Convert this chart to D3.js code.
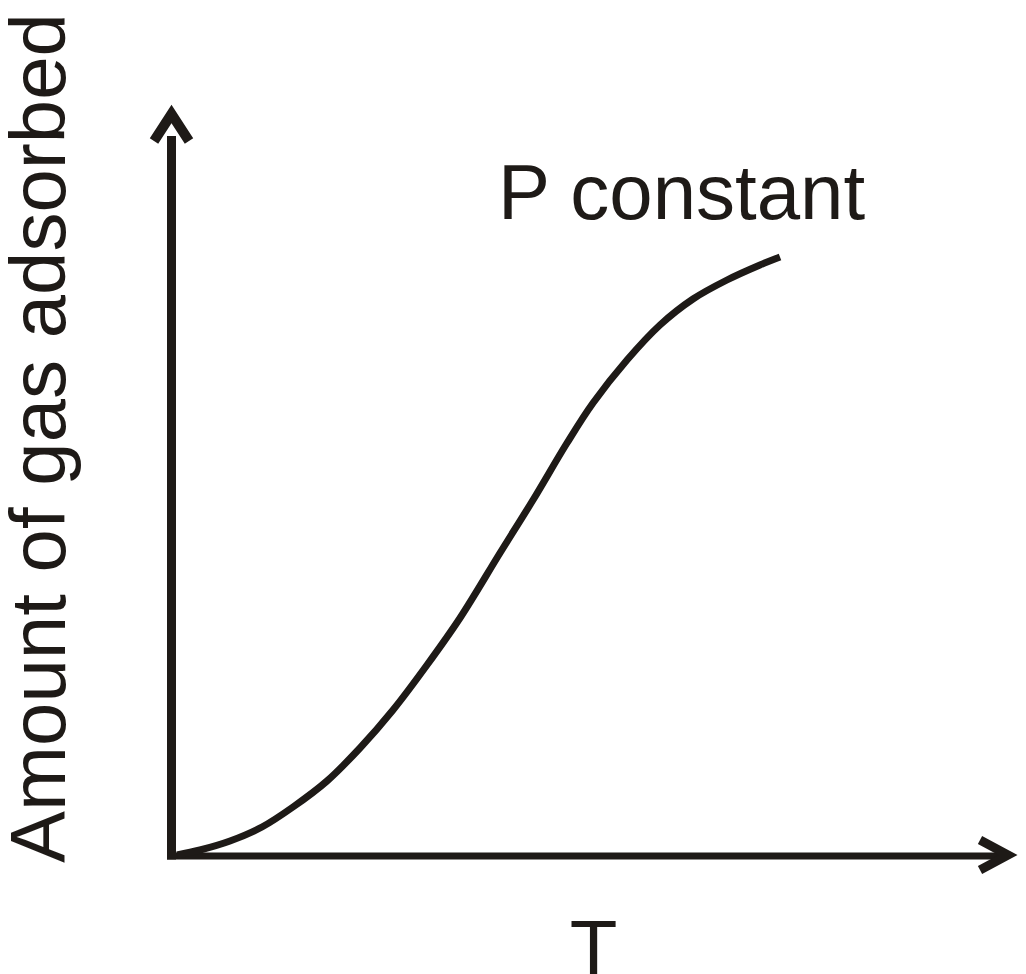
<!DOCTYPE html>
<html>
<head>
<meta charset="utf-8">
<script src="https://cdn.jsdelivr.net/npm/d3@7"></script>
<style>
  html, body { margin: 0; padding: 0; background: #fff; }
  svg { display: block; }
  text { font-family: "Liberation Sans", Arial, sans-serif; fill: #1e1a17; }
</style>
</head>
<body>
<svg id="chart" width="1026" height="974"></svg>
<script>
// Data (T in arbitrary units, amount adsorbed in arbitrary units)
const tValues      = [2, 25, 55, 87, 118, 152, 185, 218, 252, 285, 325, 358, 392, 418, 452, 485, 518, 552, 585, 605];
const amountValues = [1, 6, 15, 29, 49, 75, 108, 146, 191, 238, 303, 356, 413, 453, 496, 531, 557, 576, 591, 599];
const xLabel = "T";
const yLabel = "Amount of gas adsorbed";
const curveLabel = "P constant";

const ink = "#1e1a17";
const svg = d3.select("#chart");

const x = d3.scaleLinear().domain([0, 840]).range([175, 1015]);
const y = d3.scaleLinear().domain([0, 755]).range([856, 101]);

const data = tValues.map((t, i) => ({ t, a: amountValues[i] }));

// Y axis
svg.append("line")
  .attr("x1", x(0) - 3.5).attr("x2", x(0) - 3.5)
  .attr("y1", y(0) + 3.5).attr("y2", y(720))
  .attr("stroke", ink).attr("stroke-width", 9);
svg.append("path")
  .attr("d", `M${x(0) - 21},${y(715)} L${x(0) - 3.5},${y(742)} L${x(0) + 14},${y(715)}`)
  .attr("fill", "none").attr("stroke", ink).attr("stroke-width", 10)
  .attr("stroke-linejoin", "miter").attr("stroke-miterlimit", 10);

// X axis
svg.append("line")
  .attr("x1", x(0) - 8).attr("x2", x(830))
  .attr("y1", y(0)).attr("y2", y(0))
  .attr("stroke", ink).attr("stroke-width", 7);
svg.append("path")
  .attr("d", `M${x(805)},${y(16)} L${x(833)},${y(1)} L${x(805)},${y(-14)}`)
  .attr("fill", "none").attr("stroke", ink).attr("stroke-width", 9)
  .attr("stroke-linejoin", "miter").attr("stroke-miterlimit", 10);

// Curve
const line = d3.line()
  .x(d => x(d.t))
  .y(d => y(d.a))
  .curve(d3.curveCatmullRom.alpha(0.5));
svg.append("path")
  .datum(data)
  .attr("d", line)
  .attr("fill", "none")
  .attr("stroke", ink)
  .attr("stroke-width", 7)
  .attr("stroke-linecap", "butt");

// Texts
svg.append("text")
  .attr("x", 498).attr("y", 219)
  .attr("font-size", 78)
  .text(curveLabel);

svg.append("text")
  .attr("transform", "translate(65,438) rotate(-90)")
  .attr("text-anchor", "middle")
  .attr("font-size", 78)
  .text(yLabel);

svg.append("text")
  .attr("x", 593.5).attr("y", 975)
  .attr("text-anchor", "middle")
  .attr("font-size", 78)
  .text(xLabel);
</script>
</body>
</html>
